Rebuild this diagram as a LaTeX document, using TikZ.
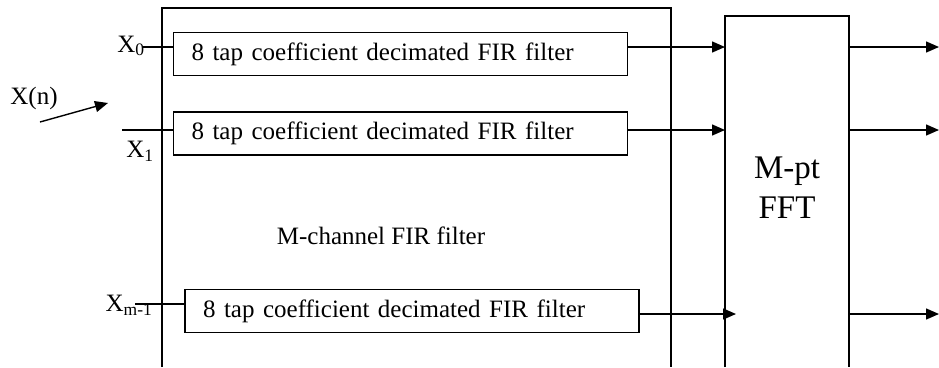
\documentclass[tikz,border=0pt]{standalone}
\usepackage{fontspec}
\setmainfont{Liberation Serif}
\usetikzlibrary{arrows.meta}

\tikzset{
  firbox/.style={draw,minimum height=43pt,inner xsep=18pt,inner ysep=0pt,
    text width=418pt,align=left,font=\fontsize{25}{30}\selectfont,
    execute at begin node={\spaceskip=8.5pt plus 2pt minus 1pt\relax}},
  chlabel/.style={inner sep=0pt,font=\fontsize{25}{30}\selectfont}
}

\begin{document}
\begin{tikzpicture}
[x=1pt,y=-1pt,->,>={Triangle[length=13pt,width=11pt]},line width=1.4pt]
\useasboundingbox (0,0) rectangle (939,367);
% filter banks
\node[firbox] (f1) at (400.5,54) {8 tap coefficient decimated FIR filter};
\node[firbox] (f2) at (400.5,133.5) {8 tap coefficient decimated FIR filter};
\node[firbox] (f3) at (412,311) {8 tap coefficient decimated FIR filter};
% outer boxes (open at the bottom)
\draw[-] (162,367) |- (671,8) -- (671,367);
\draw[-] (725,367) |- (849,16) -- (849,367);
\coordinate (fe) at (849,0);
\node[chlabel] (mch) at (381,236) {M-channel FIR filter};
\node[inner sep=0pt,align=center,font=\fontsize{33}{40}\selectfont] (fft) at (787,188) {M-pt\\FFT};
% inputs
\node[chlabel] (xn) at (34,98) {X(n)};
\coordinate (xnt) at (40,122);
\coordinate (xnh) at (108,103);
\draw (xnt) -- (xnh);
\node[chlabel] (lx0) at (131,46) {X\textsubscript{0}};
\node[chlabel] (lx1) at (140,151) {X\textsubscript{1}};
\node[chlabel] (lxm) at (129,305) {X\textsubscript{m-1}};
\coordinate (x0) at (143,47);
\coordinate (x1) at (122,130);
\coordinate (xm) at (135,304);
\draw[-] (x0) -- (x0 -| f1.west);
\draw[-] (x1) -- (x1 -| f2.west);
\draw[-] (xm) -- (xm -| f3.west);
% to the FFT and out
\coordinate (i1) at (725,47);
\coordinate (i2) at (725,130);
\coordinate (i3) at (736,314);
\draw (i1 -| f1.east) -- (i1);
\draw (i2 -| f2.east) -- (i2);
\draw (i3 -| f3.east) -- (i3);
\coordinate (o1) at (939,47);
\coordinate (o2) at (939,130);
\coordinate (o3) at (939,314);
\foreach \o in {o1,o2,o3}
  \draw (\o -| fe) -- (\o);
\end{tikzpicture}
\end{document}
